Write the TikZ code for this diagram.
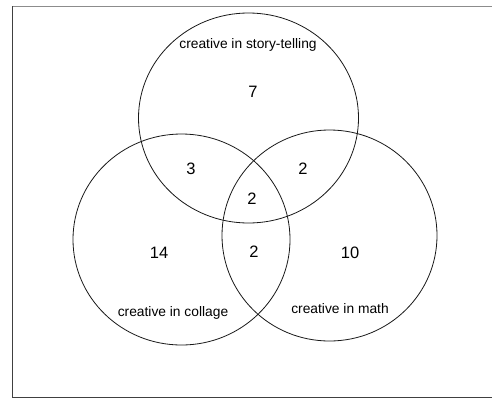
\documentclass[tikz,border=0pt]{standalone}
\usepackage{fontspec}
\setmainfont{Liberation Sans}
\begin{document}
\begin{tikzpicture}[x=1pt,y=-1pt,
  setline/.style={draw=black!90,line width=0.8pt},
  framel/.style={draw=black!75,line width=0.7pt},
  lbl/.style={font=\fontsize{13.8}{15}\selectfont,inner sep=0pt},
  num/.style={font=\fontsize{16.5}{18}\selectfont,inner sep=0pt}]
\useasboundingbox (0,0) rectangle (492,402);
% frame
\draw[framel,draw=black!45] (12,6) -- (492,6);
\draw[framel] (12,6) -- (12,397) -- (492,397);
% circles
\coordinate (cs) at (248.5,118);
\coordinate (cc) at (181.5,239.5);
\coordinate (cm) at (329.5,235.5);
\draw[setline] (cs) ellipse [x radius=110, y radius=105];
\draw[setline] (cc) ellipse [x radius=108.5, y radius=105.5];
\draw[setline] (cm) ellipse [x radius=107.5, y radius=105.5];
% labels
\node[lbl] (ls) at (248,45) {creative in story-telling};
\node[lbl] (lc) at (173,313) {creative in collage};
\node[lbl] (lm) at (340,309) {creative in math};
% numbers
\node[num] (n7) at (253,92) {7};
\node[num] (n3) at (191,169) {3};
\node[num] (n2a) at (303,169) {2};
\node[num] (n2b) at (252,199) {2};
\node[num] (n2c) at (254,252) {2};
\node[num] (n14) at (159,253) {14};
\node[num] (n10) at (350,253) {10};
\end{tikzpicture}
\end{document}
